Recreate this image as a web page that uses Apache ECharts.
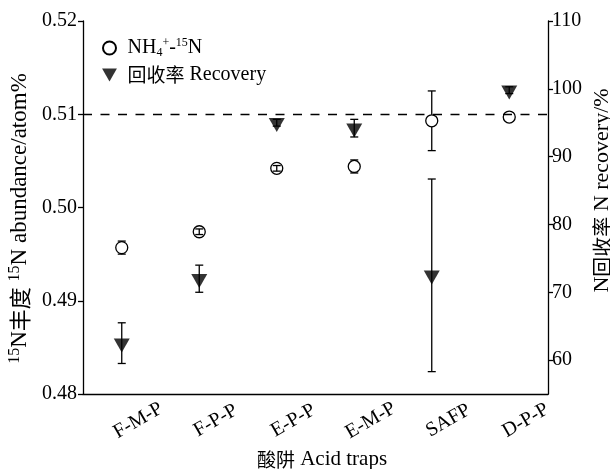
<!DOCTYPE html>
<html><head><meta charset="utf-8">
<script src="https://cdn.jsdelivr.net/npm/echarts@6/dist/echarts.min.js"></script>
<style>html,body{margin:0;padding:0;background:#fff}#c{width:610px;height:469px}</style>
</head><body><div id="c"></div>
<script>
// ---- data ----
const categories = ['F-M-P', 'F-P-P', 'E-P-P', 'E-M-P', 'SAFP', 'D-P-P'];
const abundance = [0.4957, 0.4974, 0.5042, 0.5044, 0.5093, 0.5097];
const abundanceErr = [0.0007, 0.0003, 0.0003, 0.0007, 0.0032, 0];
const recovery = [62.5, 72.0, 95.0, 94.2, 72.5, 99.8];
const recoveryErr = [3.0, 2.0, 0.5, 1.3, 14.2, 0.5];
const rightTickLabels = [60, 70, 80, 90, 100, 110];
const referenceLine = 0.51;

const LAT = 'Liberation Serif, Times New Roman, serif';
const CJK = 'Noto Sans CJK SC';
function mkRich(l, c, s) {
  return {
    l: { fontFamily: LAT, fontSize: l, color: '#000', lineHeight: 25 },
    c: { fontFamily: CJK, fontSize: c, color: '#000', lineHeight: 25 },
    sup: { fontFamily: LAT, fontSize: s, color: '#000', verticalAlign: 'top', lineHeight: s + 1 },
    sub: { fontFamily: LAT, fontSize: s, color: '#000', verticalAlign: 'bottom', lineHeight: s + 1 }
  };
}
const legendRich = {
  l: { fontFamily: LAT, fontSize: 20, color: '#000', lineHeight: 22 },
  c: { fontFamily: CJK, fontSize: 19, color: '#000', lineHeight: 22 },
  sup: { fontFamily: LAT, fontSize: 12, color: '#000', verticalAlign: 'top', lineHeight: 12 },
  sub: { fontFamily: LAT, fontSize: 12, color: '#000', verticalAlign: 'bottom', lineHeight: 12 }
};

const CIRCLE_R = 6;
function errRender(radius) {
  return function (params, api) {
    const i = api.value(0), v = api.value(1), e = api.value(2);
    if (!e) return null;
    const top = api.coord([i, v + e]);
    const bot = api.coord([i, v - e]);
    const c = api.coord([i, v]);
    const hw = 4;
    const style = { stroke: '#000', lineWidth: 1.3, fill: null };
    const ch = [
      { type: 'line', shape: { x1: top[0] - hw, y1: top[1], x2: top[0] + hw, y2: top[1] }, style },
      { type: 'line', shape: { x1: bot[0] - hw, y1: bot[1], x2: bot[0] + hw, y2: bot[1] }, style }
    ];
    if (c[1] - top[1] > radius && radius > 0) {
      ch.push({ type: 'line', shape: { x1: c[0], y1: top[1], x2: c[0], y2: c[1] - radius }, style });
      ch.push({ type: 'line', shape: { x1: c[0], y1: c[1] + radius, x2: c[0], y2: bot[1] }, style });
    } else {
      ch.push({ type: 'line', shape: { x1: c[0], y1: top[1], x2: c[0], y2: bot[1] }, style });
    }
    return { type: 'group', children: ch };
  };
}

const axisLineStyle = { color: '#000', width: 1.3 };
const chart = echarts.init(document.getElementById('c'), null, { renderer: 'canvas' });
chart.setOption({
  animation: false,
  backgroundColor: '#fff',
  grid: { left: 83, right: 62, top: 21, bottom: 75, containLabel: false, outerBoundsMode: 'none' },
  legend: {
    data: ['nh4', 'rec'],
    orient: 'vertical',
    left: 97, top: 32,
    itemWidth: 16, itemHeight: 13, itemGap: 6,
    formatter: function (n) {
      return n === 'nh4' ? '{l|NH}{sub|4}{sup|+}{l|-}{sup|15}{l|N}' : '{c|回收率}{l| Recovery}';
    },
    textStyle: { rich: legendRich, padding: [0, 0, 0, 5] }
  },
  xAxis: {
    type: 'category',
    data: categories,
    boundaryGap: true,
    axisLine: { lineStyle: axisLineStyle },
    axisTick: { inside: true, alignWithLabel: true, length: 5, lineStyle: axisLineStyle },
    axisLabel: {
      interval: 0, rotate: 30, margin: 36,
      align: 'center', verticalAlign: 'middle',
      padding: [0, 0, 0, 38],
      fontFamily: LAT, fontSize: 20, color: '#000'
    },
    splitLine: { show: false },
    name: '{c|酸阱}{l| Acid traps}',
    nameLocation: 'middle', nameGap: 52,
    nameTextStyle: { rich: mkRich(21, 19, 13), padding: [0, 0, 0, 13] }
  },
  yAxis: [{
    type: 'value', min: 0.48, max: 0.52, interval: 0.01,
    position: 'left',
    axisLine: { show: true, lineStyle: axisLineStyle },
    axisTick: { show: true, length: 5, lineStyle: axisLineStyle },
    axisLabel: { margin: 6, fontFamily: LAT, fontSize: 20, color: '#000', formatter: v => v.toFixed(2) },
    splitLine: { show: false },
    name: '{sup|15}{l|N}{c|丰度}{l| }{sup|15}{l|N abundance/atom%}',
    nameLocation: 'middle', nameGap: 48, nameRotate: 90,
    nameTextStyle: { rich: mkRich(23, 22, 16), padding: [0, 22, 0, 0] }
  }, {
    type: 'value', min: 55, max: 110, splitNumber: 5,
    position: 'right',
    axisLine: { show: true, lineStyle: axisLineStyle },
    axisTick: { show: true, length: 5, lineStyle: axisLineStyle },
    axisLabel: {
      margin: 4, fontFamily: LAT, fontSize: 20, color: '#000', showMinLabel: false,
      formatter: v => rightTickLabels.indexOf(Math.round(v)) >= 0 && Math.abs(v - Math.round(v)) < 1e-6 ? String(Math.round(v)) : ''
    },
    splitLine: { show: false },
    name: '{l|N}{c|回收率}{l| N recovery/%}',
    nameLocation: 'middle', nameGap: 42, nameRotate: 90, nameMoveOverlap: false,
    nameTextStyle: { rich: mkRich(22, 20, 14), padding: [0, 0, 0, 34] }
  }],
  series: [
    {
      name: 'rec-err', type: 'custom', xAxisIndex: 0, yAxisIndex: 1, z: 2,
      renderItem: errRender(0),
      encode: { x: 0, y: 1 },
      data: categories.map((c, i) => [i, recovery[i], recoveryErr[i]])
    },
    {
      name: 'rec', type: 'scatter', xAxisIndex: 0, yAxisIndex: 1, z: 3,
      symbol: 'path://M0,0L16,0L8,14Z', symbolSize: [16, 14], symbolOffset: [0, 2.3],
      itemStyle: { color: '#000' },
      data: categories.map((c, i) => [i, recovery[i]])
    },
    {
      name: 'nh4', type: 'scatter', xAxisIndex: 0, yAxisIndex: 0, z: 4,
      symbol: 'circle', symbolSize: 12,
      itemStyle: { color: '#fff', borderColor: '#000', borderWidth: 1.3, opacity: 1 },
      data: categories.map((c, i) => [i, abundance[i]]),
      markLine: {
        silent: true, symbol: 'none', label: { show: false },
        lineStyle: { color: '#000', width: 1.3, type: [9, 8.5] },
        data: [{ yAxis: referenceLine }]
      }
    },
    {
      name: 'nh4-err', type: 'custom', xAxisIndex: 0, yAxisIndex: 0, z: 5,
      renderItem: errRender(CIRCLE_R),
      encode: { x: 0, y: 1 },
      data: categories.map((c, i) => [i, abundance[i], abundanceErr[i]])
    }
  ]
});
</script></body></html>
